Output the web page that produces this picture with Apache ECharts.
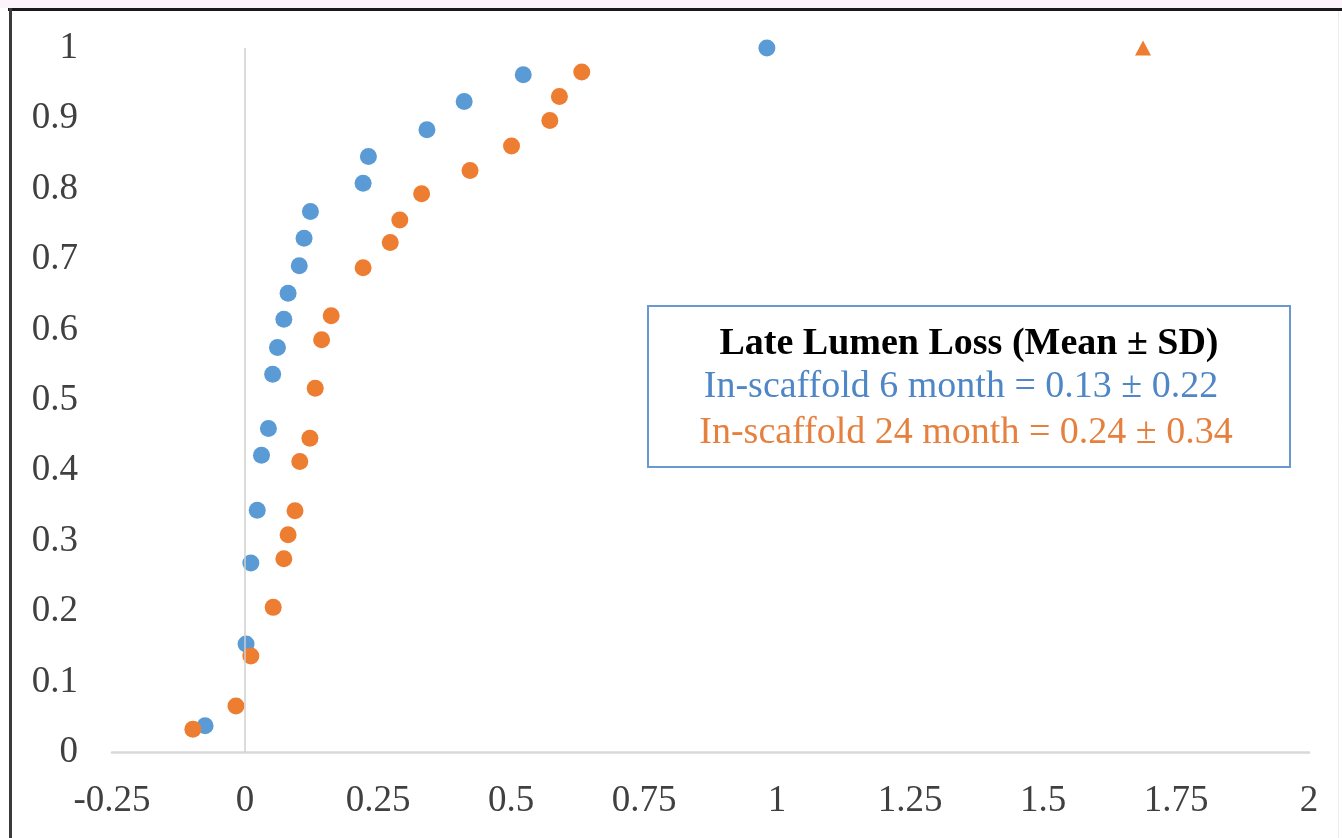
<!DOCTYPE html>
<html>
<head>
<meta charset="utf-8">
<script src="https://cdn.jsdelivr.net/npm/echarts@6/dist/echarts.min.js"></script>
<style>
html,body{margin:0;padding:0;background:#fff;}
#chart{width:1342px;height:838px;}
</style>
</head>
<body>
<div id="chart"></div>
<script>
// Tick labels
const xTicks = [-0.25, 0, 0.25, 0.5, 0.75, 1, 1.25, 1.5, 1.75, 2];
const yTicks = [0, 0.1, 0.2, 0.3, 0.4, 0.5, 0.6, 0.7, 0.8, 0.9, 1];

// In-scaffold 6 month (blue)
const blueX = [-0.075, 0.002, 0.011, 0.023, 0.031, 0.044, 0.052, 0.061, 0.073, 0.081, 0.102, 0.111, 0.123, 0.222, 0.232, 0.342, 0.412, 0.523, 0.981];
const blueY = [0.038, 0.154, 0.269, 0.344, 0.422, 0.460, 0.537, 0.575, 0.615, 0.652, 0.691, 0.730, 0.768, 0.808, 0.846, 0.884, 0.924, 0.962, 1.0];

// In-scaffold 24 month (orange circles)
const orangeX = [-0.098, -0.017, 0.011, 0.053, 0.073, 0.081, 0.094, 0.103, 0.122, 0.132, 0.144, 0.162, 0.222, 0.273, 0.291, 0.332, 0.423, 0.501, 0.573, 0.591, 0.633];
const orangeY = [0.033, 0.066, 0.137, 0.206, 0.275, 0.309, 0.343, 0.413, 0.446, 0.517, 0.586, 0.620, 0.688, 0.724, 0.756, 0.793, 0.826, 0.861, 0.897, 0.931, 0.966];

// In-scaffold 24 month outlier (orange triangle)
const orangeOutX = [1.688];
const orangeOutY = [1.0];

// Text box
const boxTitle = 'Late Lumen Loss (Mean ± SD)';
const boxLine1 = 'In-scaffold 6 month = 0.13 ± 0.22';
const boxLine2 = 'In-scaffold 24 month = 0.24 ± 0.34';

const zip = (xs, ys) => xs.map((x, i) => [x, ys[i]]);

const FONT = "'Liberation Serif', 'Times New Roman', serif";
const BLUE = '#5b9bd5';
const ORANGE = '#ed7d31';

const chart = echarts.init(document.getElementById('chart'), null, {renderer: 'canvas'});
chart.setOption({
  animation: false,
  backgroundColor: '#ffffff',
  grid: {left: 112, right: 1342 - 1309, top: 48, bottom: 838 - 752.5, containLabel: false},
  xAxis: {
    type: 'value',
    min: xTicks[0], max: xTicks[xTicks.length - 1],
    interval: xTicks[1] - xTicks[0],
    axisLine: {show: true, onZero: true, lineStyle: {color: '#d9d9d9', width: 2.5}},
    axisTick: {show: false},
    splitLine: {show: false},
    axisLabel: {color: '#404040', fontFamily: FONT, fontSize: 37, margin: 30}
  },
  yAxis: {
    type: 'value',
    min: yTicks[0], max: yTicks[yTicks.length - 1],
    interval: 0.1,
    axisLine: {show: false, onZero: false},
    axisTick: {show: false},
    splitLine: {show: false},
    axisLabel: {color: '#404040', fontFamily: FONT, fontSize: 37, margin: 34, padding: [7, 0, 0, 0]}
  },
  series: [
    {
      type: 'line', data: [], z: 1, silent: true,
      markLine: {
        silent: true, symbol: 'none', label: {show: false},
        lineStyle: {color: '#cfcfcf', width: 1.5, type: 'solid'},
        data: [{xAxis: 0}]
      }
    },
    {
      name: 'In-scaffold 6 month', type: 'scatter', z: 3,
      symbol: 'circle', symbolSize: 17,
      itemStyle: {color: BLUE, opacity: 1},
      data: zip(blueX, blueY)
    },
    {
      name: 'In-scaffold 24 month', type: 'scatter', z: 3,
      symbol: 'circle', symbolSize: 17,
      itemStyle: {color: ORANGE, opacity: 1},
      data: zip(orangeX, orangeY)
    },
    {
      name: 'In-scaffold 24 month outlier', type: 'scatter', z: 3,
      symbol: 'triangle', symbolSize: [16, 15],
      itemStyle: {color: ORANGE, opacity: 1},
      data: zip(orangeOutX, orangeOutY)
    }
  ],
  graphic: [
    {type: 'rect', shape: {x: 0, y: 0, width: 1342, height: 8}, style: {fill: '#fdf4fb'}, silent: true},
    {type: 'line', shape: {x1: 8, y1: 9.5, x2: 1342, y2: 9.5}, style: {stroke: '#1a1a1a', lineWidth: 3}, silent: true},
    {type: 'line', shape: {x1: 10.5, y1: 8, x2: 10.5, y2: 838}, style: {stroke: '#3a3a3a', lineWidth: 3}, silent: true},
    {type: 'line', shape: {x1: 1338.5, y1: 11, x2: 1338.5, y2: 838}, style: {stroke: '#ececec', lineWidth: 1}, silent: true},
    {
      type: 'rect', shape: {x: 648, y: 306, width: 642, height: 161},
      style: {fill: '#ffffff', stroke: '#6a98d0', lineWidth: 2}, z: 10, silent: true
    },
    {
      type: 'text', x: 969, y: 344, z: 11, silent: true,
      style: {text: boxTitle, fill: '#000000', font: "bold 38px " + FONT, textAlign: 'center', textVerticalAlign: 'middle'}
    },
    {
      type: 'text', x: 961, y: 387, z: 11, silent: true,
      style: {text: boxLine1, fill: '#4f86c6', font: "38px " + FONT, textAlign: 'center', textVerticalAlign: 'middle'}
    },
    {
      type: 'text', x: 966, y: 433, z: 11, silent: true,
      style: {text: boxLine2, fill: '#e5803f', font: "38px " + FONT, textAlign: 'center', textVerticalAlign: 'middle'}
    }
  ]
});
</script>
</body>
</html>
